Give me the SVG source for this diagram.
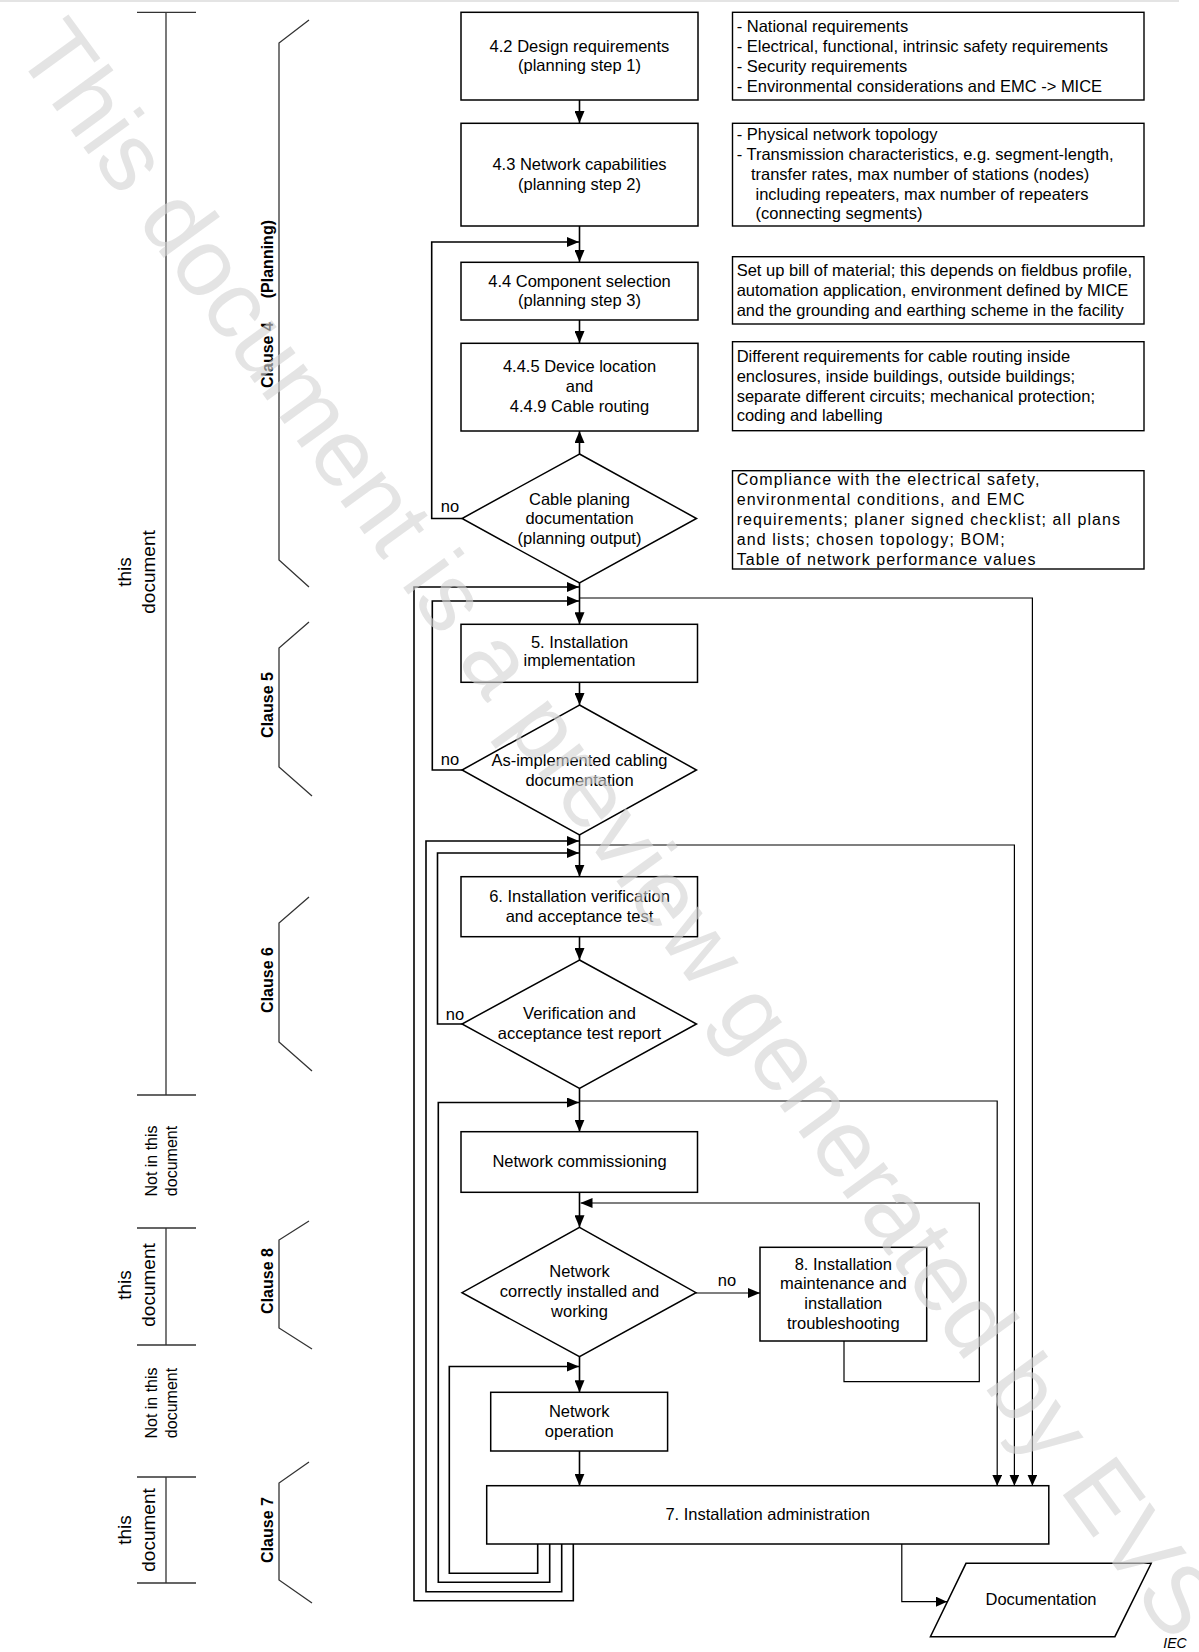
<svg xmlns="http://www.w3.org/2000/svg" width="1199" height="1652" viewBox="0 0 1199 1652">
<defs>
<marker id="ah" viewBox="0 0 12 10" refX="12" refY="5" markerWidth="12" markerHeight="10" markerUnits="userSpaceOnUse" orient="auto"><path d="M0,0 L12,5 L0,10 z" fill="#000"/></marker>
<marker id="ahs" viewBox="0 0 11 10" refX="11" refY="5" markerWidth="11" markerHeight="10" markerUnits="userSpaceOnUse" orient="auto"><path d="M0,0 L11,5 L0,10 z" fill="#000"/></marker>
</defs>
<style>
text{font-family:"Liberation Sans",Arial,sans-serif;font-size:16.5px;fill:#000}
.c{text-anchor:middle}
.box{fill:#fff;stroke:#000;stroke-width:1.5}
.desc{fill:#fff;stroke:#000;stroke-width:1.4}
.ln{fill:none;stroke:#000;stroke-width:1.6}
.rl{fill:none;stroke:#000;stroke-width:1.2}
.br{fill:none;stroke:#333;stroke-width:1.3}
.cl{font-weight:bold;font-size:16px}
.td{font-size:19px}
.nd{font-size:16px}
.wide{letter-spacing:1.1px;font-size:16px}
.wm{font-family:"Liberation Sans",Arial,sans-serif;font-size:96px;fill:#d4d4d4;fill-opacity:0.62}
</style>
<rect x="0" y="0" width="1199" height="1652" fill="#fff"/>
<line x1="0" y1="1" x2="1179" y2="1" stroke="#e4e4e4" stroke-width="2"/>

<g id="scope-brackets">
<path class="br" d="M137,12.3 H196 M166,12.3 V1095 M137,1095 H196"/>
<path class="br" d="M137,1228 H196 M166,1228 V1345 M137,1345 H196"/>
<path class="br" d="M137,1477 H196 M166,1477 V1583 M137,1583 H196"/>
<text class="c td" transform="translate(0,572) rotate(-90)"><tspan x="0" y="131">this</tspan><tspan x="0" y="155">document</tspan></text>
<text class="c nd" transform="translate(0,1161) rotate(-90)"><tspan x="0" y="157">Not in this</tspan><tspan x="0" y="177">document</tspan></text>
<text class="c td" transform="translate(0,1285) rotate(-90)"><tspan x="0" y="131">this</tspan><tspan x="0" y="155">document</tspan></text>
<text class="c nd" transform="translate(0,1403) rotate(-90)"><tspan x="0" y="157">Not in this</tspan><tspan x="0" y="177">document</tspan></text>
<text class="c td" transform="translate(0,1530) rotate(-90)"><tspan x="0" y="131">this</tspan><tspan x="0" y="155">document</tspan></text>
</g>

<g id="clause-braces">
<path class="br" d="M309,20 L279,43 V560 L309,587"/>
<path class="br" d="M309,622 L279,648 V767 L312,796"/>
<path class="br" d="M309,897 L279,923 V1042 L312,1071"/>
<path class="br" d="M309,1221 L279,1240 V1328 L312,1349"/>
<path class="br" d="M309,1462 L279,1483 V1580 L312,1603"/>
<text class="cl" transform="translate(273,0) rotate(-90)" x="-388" y="0">Clause 4</text>
<text class="cl" transform="translate(273,0) rotate(-90)" x="-220" y="0" text-anchor="end">(Planning)</text>
<text class="cl c" transform="translate(273,705) rotate(-90)" x="0" y="0">Clause 5</text>
<text class="cl c" transform="translate(273,980) rotate(-90)" x="0" y="0">Clause 6</text>
<text class="cl c" transform="translate(273,1281) rotate(-90)" x="0" y="0">Clause 8</text>
<text class="cl c" transform="translate(273,1530) rotate(-90)" x="0" y="0">Clause 7</text>
</g>

<g id="connectors">
<path class="ln" d="M579.5,100 V123" marker-end="url(#ah)"/>
<path class="ln" d="M579.5,226 V262" marker-end="url(#ah)"/>
<path class="ln" d="M579.5,320 V343" marker-end="url(#ah)"/>
<path class="ln" d="M579.5,454 V431" marker-end="url(#ah)"/>
<path class="ln" d="M462,518.5 H431.7 V242 H579" marker-end="url(#ah)"/>
<path class="ln" d="M579.5,583 V624.3" marker-end="url(#ah)"/>
<path class="ln" d="M573.3,1544 V1600.7 H414 V587 H579" marker-end="url(#ah)"/>
<path class="ln" d="M462,770 H432.3 V601 H579" marker-end="url(#ah)"/>
<path class="rl" d="M579.5,598 H1032.4 V1485.7" marker-end="url(#ahs)"/>
<path class="ln" d="M579.5,682.3 V705" marker-end="url(#ah)"/>
<path class="ln" d="M579.5,835 V876.7" marker-end="url(#ah)"/>
<path class="ln" d="M561.7,1544 V1591.7 H426 V841 H579" marker-end="url(#ah)"/>
<path class="ln" d="M462,1024 H437.5 V853 H579" marker-end="url(#ah)"/>
<path class="rl" d="M579.5,845 H1014.4 V1485.7" marker-end="url(#ahs)"/>
<path class="ln" d="M579.5,936.7 V960" marker-end="url(#ah)"/>
<path class="ln" d="M579.5,1088.3 V1131.7" marker-end="url(#ah)"/>
<path class="ln" d="M549.7,1544 V1582.3 H438.3 V1102.5 H579" marker-end="url(#ah)"/>
<path class="rl" d="M579.5,1101 H997.2 V1485.7" marker-end="url(#ahs)"/>
<path class="ln" d="M579.5,1192.3 V1227.3" marker-end="url(#ah)"/>
<path class="rl" d="M844,1341 V1381.7 H979.3 V1203 H580.5" marker-end="url(#ah)"/>
<path class="rl" d="M696,1293 H760" marker-end="url(#ah)"/>
<path class="ln" d="M579.5,1356.7 V1392.3" marker-end="url(#ah)"/>
<path class="ln" d="M537.7,1544 V1573.3 H449.3 V1366.5 H579" marker-end="url(#ah)"/>
<path class="ln" d="M579.5,1451 V1485.7" marker-end="url(#ah)"/>
<path class="rl" d="M901.8,1544 V1601.7 H947" marker-end="url(#ahs)"/>
<text class="c" x="450" y="511.6">no</text>
<text class="c" x="450" y="764.6">no</text>
<text class="c" x="455" y="1019.6">no</text>
<text class="c" x="727" y="1285.6">no</text>
</g>

<g id="n42"><rect class="box" x="461" y="12.3" width="237" height="87.7"/>
<text class="c" x="579.5" y="52">4.2 Design requirements</text><text class="c" x="579.5" y="71">(planning step 1)</text></g>
<g id="n43"><rect class="box" x="461" y="123.3" width="237" height="102.7"/>
<text class="c" x="579.5" y="170">4.3 Network capabilities</text><text class="c" x="579.5" y="190">(planning step 2)</text></g>
<g id="n44"><rect class="box" x="461" y="262.3" width="237" height="57.7"/>
<text class="c" x="579.5" y="286.6">4.4 Component selection</text><text class="c" x="579.5" y="305.6">(planning step 3)</text></g>
<g id="n445"><rect class="box" x="461" y="343.3" width="237" height="87.7"/>
<text class="c" x="579.5" y="372.3">4.4.5 Device location</text><text class="c" x="579.5" y="392.3">and</text><text class="c" x="579.5" y="412.3">4.4.9 Cable routing</text></g>
<g id="d1"><polygon class="box" points="579.5,454 696.5,518.5 579.5,583 462,518.5"/>
<text class="c" x="579.5" y="504.6">Cable planing</text><text class="c" x="579.5" y="524">documentation</text><text class="c" x="579.5" y="544">(planning output)</text></g>

<g id="descA"><rect class="desc" x="732.5" y="12.3" width="411.5" height="87.7"/>
<text x="736.7" y="31.5">- National requirements</text>
<text x="736.7" y="51.5">- Electrical, functional, intrinsic safety requirements</text>
<text x="736.7" y="71.5">- Security requirements</text>
<text x="736.7" y="91.5">- Environmental considerations and EMC -&gt; MICE</text></g>
<g id="descB"><rect class="desc" x="732.5" y="123.3" width="411.5" height="102.7"/>
<text x="736.7" y="140">- Physical network topology</text>
<text x="736.7" y="160">- Transmission characteristics, e.g. segment-length,</text>
<text x="750.9" y="180">transfer rates, max number of stations (nodes)</text>
<text x="755.5" y="200">including repeaters, max number of repeaters</text>
<text x="755.5" y="219">(connecting segments)</text></g>
<g id="descC"><rect class="desc" x="732.5" y="256.7" width="411.5" height="67.3"/>
<text x="736.7" y="276.3">Set up bill of material; this depends on fieldbus profile,</text>
<text x="736.7" y="296.3">automation application, environment defined by MICE</text>
<text x="736.7" y="315.6">and the grounding and earthing scheme in the facility</text></g>
<g id="descD"><rect class="desc" x="732.5" y="341.7" width="411.5" height="89"/>
<text x="736.7" y="361.6">Different requirements for cable routing inside</text>
<text x="736.7" y="381.6">enclosures, inside buildings, outside buildings;</text>
<text x="736.7" y="401.6">separate different circuits; mechanical protection;</text>
<text x="736.7" y="420.6">coding and labelling</text></g>
<g id="descE"><rect class="desc" x="732.5" y="470.7" width="411.5" height="98.3"/>
<text class="wide" x="736.7" y="485">Compliance with the electrical safety,</text>
<text class="wide" x="736.7" y="505">environmental conditions, and EMC</text>
<text class="wide" x="736.7" y="524.6">requirements; planer signed checklist; all plans</text>
<text class="wide" x="736.7" y="545">and lists; chosen topology; BOM;</text>
<text class="wide" x="736.7" y="564.6">Table of network performance values</text></g>

<g id="n5"><rect class="box" x="461" y="624.3" width="236.5" height="58"/>
<text class="c" x="579.5" y="647.5">5. Installation</text><text class="c" x="579.5" y="666">implementation</text></g>
<g id="d2"><polygon class="box" points="579.5,705 696.5,770 579.5,835 462,770"/>
<text class="c" x="579.5" y="765.6">As-implemented cabling</text><text class="c" x="579.5" y="785.6">documentation</text></g>
<g id="n6"><rect class="box" x="461" y="876.7" width="236.5" height="60"/>
<text class="c" x="579.5" y="902.3">6. Installation verification</text><text class="c" x="579.5" y="921.6">and acceptance test</text></g>
<g id="d3"><polygon class="box" points="579.5,960 696.5,1024 579.5,1088.3 462,1024"/>
<text class="c" x="579.5" y="1019">Verification and</text><text class="c" x="579.5" y="1039">acceptance test report</text></g>
<g id="ncomm"><rect class="box" x="461" y="1131.7" width="236.5" height="60.6"/>
<text class="c" x="579.5" y="1167.3">Network commissioning</text></g>
<g id="d4"><polygon class="box" points="579.5,1227.3 696,1292.7 579.5,1356.7 462,1292.7"/>
<text class="c" x="579.5" y="1277.3">Network</text><text class="c" x="579.5" y="1297.3">correctly installed and</text><text class="c" x="579.5" y="1317.3">working</text></g>
<g id="n8"><rect class="box" x="760" y="1247.3" width="166.7" height="93.7"/>
<text class="c" x="843.3" y="1269.6">8. Installation</text><text class="c" x="843.3" y="1289">maintenance and</text><text class="c" x="843.3" y="1309">installation</text><text class="c" x="843.3" y="1329">troubleshooting</text></g>
<g id="nop"><rect class="box" x="490.7" y="1392.3" width="176.9" height="58.7"/>
<text class="c" x="579.2" y="1417.3">Network</text><text class="c" x="579.2" y="1437.3">operation</text></g>
<g id="n7"><rect class="box" x="486.7" y="1485.7" width="562.1" height="58.3"/>
<text class="c" x="767.7" y="1520">7. Installation administration</text></g>
<g id="ndoc"><polygon class="box" points="966,1563.3 1151.2,1563.3 1114.9,1636.7 930.4,1636.7"/>
<text class="c" x="1041" y="1605">Documentation</text></g>

<text x="1175" y="1648" text-anchor="middle" style="font-size:14px;font-style:italic">IEC</text>

<text class="wm c" transform="translate(620,828) rotate(54)" x="0" y="34">This document is a preview generated by EVS</text>
</svg>
